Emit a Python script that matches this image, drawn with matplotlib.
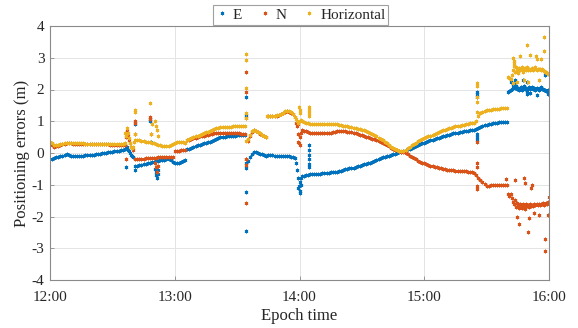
import numpy as np
import matplotlib
matplotlib.use("Agg")
import matplotlib.pyplot as plt
from matplotlib.lines import Line2D

plt.rcParams['font.family'] = ['Liberation Serif', 'DejaVu Serif']

# ---------------- data (minutes after 12:00) ----------------
series_names = ["E", "N", "Horizontal"]
series_colors = ["#0072BD", "#D95319", "#EDB120"]
x_tick_labels = ["12:00", "13:00", "14:00", "15:00", "16:00"]
y_ticks = [-4, -3, -2, -1, 0, 1, 2, 3, 4]

# main part: one reading per minute, 12:00 .. 15:40
e_main = [
    -0.20, -0.18, -0.16, -0.14, -0.12, -0.10, -0.08, -0.05, -0.04, -0.06,
    -0.08, -0.10, -0.11, -0.11, -0.10, -0.09, -0.08, -0.07, -0.06, -0.06,
    -0.05, -0.05, -0.04, -0.03, -0.02, -0.01, 0.00, 0.01, 0.02, 0.03,
    0.04, 0.05, 0.06, 0.07, 0.08, 0.09, 0.12, 0.18, 0.05, -0.05,
    -0.12,
    -0.42, -0.40, -0.39, -0.38, -0.36, -0.34, -0.32, -0.30, -0.29,
    -0.28, -0.26, -0.25, -0.23, -0.22, -0.21, -0.20, -0.20, -0.22, -0.28,
    -0.32, -0.33, -0.31, -0.28, -0.25, -0.22,
    0.12, 0.14, 0.16, 0.19,
    0.22, 0.24, 0.26, 0.28, 0.30, 0.32, 0.34, 0.36, 0.39, 0.42,
    0.45, 0.47, 0.49, 0.50, 0.51, 0.52, 0.53, 0.54, 0.54, 0.55,
    0.56, 0.57, 0.57, 0.58, 0.58,
    -0.25, -0.12, -0.02, 0.03, 0.04,
    0.01, -0.02, -0.04, -0.06, -0.08, -0.07, -0.06, -0.07, -0.08, -0.09,
    -0.10, -0.09, -0.08, -0.09, -0.10, -0.11, -0.12, -0.13, -0.15, -0.55,
    -0.90, -0.72,
    -0.72, -0.70, -0.68, -0.67, -0.66, -0.66, -0.66, -0.65,
    -0.65, -0.64, -0.64, -0.63, -0.62, -0.61, -0.61, -0.60, -0.60, -0.58,
    -0.56, -0.53, -0.50, -0.49, -0.48, -0.47, -0.46, -0.44, -0.42, -0.40,
    -0.38, -0.36, -0.34, -0.32, -0.30, -0.27, -0.24, -0.21, -0.18, -0.16,
    -0.14, -0.12, -0.10, -0.08, -0.06, -0.04, -0.02, 0.00, 0.02, 0.04,
    0.06, 0.09, 0.12, 0.14, 0.17, 0.20, 0.23, 0.26, 0.29, 0.31,
    0.33, 0.35, 0.37, 0.40, 0.42, 0.44, 0.46, 0.48, 0.50, 0.53,
    0.55, 0.56, 0.58, 0.60, 0.62, 0.63, 0.64, 0.65, 0.66, 0.68,
    0.69, 0.70, 0.71, 0.72, 0.73, 0.76, 0.80, 0.83, 0.85, 0.87,
    0.88, 0.90, 0.91, 0.93, 0.95, 0.96, 0.98, 0.97, 0.97, 0.98,
    0.99,
]
n_main = [
    0.30, 0.24, 0.20, 0.21, 0.23, 0.25, 0.27, 0.29, 0.31, 0.31,
    0.31, 0.29, 0.28, 0.28, 0.28, 0.28, 0.28, 0.27, 0.27, 0.27,
    0.27, 0.27, 0.27, 0.28, 0.28, 0.28, 0.28, 0.28, 0.27, 0.26,
    0.26, 0.25, 0.25, 0.25, 0.25, 0.25, 0.26, 0.70, 0.40, 0.18,
    0.10,
    -0.20, -0.20, -0.19, -0.18, -0.18, -0.17, -0.17, -0.16, -0.16,
    -0.15, -0.15, -0.14, -0.14, -0.13, -0.13, -0.13, -0.12, -0.12, -0.13,
    0.05, 0.06, 0.07, 0.08, 0.09, 0.09,
    0.40, 0.42, 0.44, 0.46,
    0.48, 0.50, 0.52, 0.54, 0.55, 0.57, 0.58, 0.59, 0.61, 0.62,
    0.63, 0.64, 0.64, 0.64, 0.64, 0.63, 0.63, 0.62, 0.62, 0.62,
    0.62, 0.62, 0.61, 0.61, 0.61,
    0.37, 0.55, 0.67, 0.71, 0.69,
    0.65, 0.61, 0.57, 0.53, 0.49, 1.16, 1.16, 1.16, 1.17, 1.18,
    1.20, 1.23, 1.26, 1.30, 1.32, 1.30, 1.27, 1.22, 1.12, 0.85,
    0.50, 0.72,
    0.70, 0.68, 0.66, 0.64, 0.63, 0.62, 0.62, 0.63,
    0.64, 0.64, 0.64, 0.63, 0.63, 0.64, 0.66, 0.67, 0.68, 0.69,
    0.69, 0.68, 0.68, 0.67, 0.66, 0.65, 0.64, 0.62, 0.61, 0.58,
    0.56, 0.53, 0.51, 0.49, 0.47, 0.45, 0.43, 0.41, 0.39, 0.36,
    0.33, 0.29, 0.25, 0.21, 0.17, 0.13, 0.10, 0.08, 0.06, 0.04,
    0.02, 0.00, -0.03, -0.08, -0.12, -0.16, -0.20, -0.24, -0.27, -0.30,
    -0.32, -0.35, -0.38, -0.40, -0.42, -0.44, -0.45, -0.47, -0.48, -0.50,
    -0.51, -0.53, -0.54, -0.55, -0.55, -0.56, -0.56, -0.57, -0.57, -0.58,
    -0.58, -0.59, -0.59, -0.60, -0.62, -0.68, -0.78, -0.86, -0.92, -0.99,
    -1.03, -1.04, -1.02, -1.01, -1.01, -1.02, -1.02, -1.02, -1.02, -1.01,
    -1.01,
]
h_main = [
    0.36, 0.30, 0.25, 0.25, 0.26, 0.28, 0.29, 0.31, 0.32, 0.33,
    0.33, 0.32, 0.30, 0.30, 0.30, 0.30, 0.30, 0.29, 0.29, 0.28,
    0.28, 0.28, 0.28, 0.29, 0.29, 0.29, 0.29, 0.29, 0.28, 0.27,
    0.27, 0.27, 0.27, 0.27, 0.27, 0.27, 0.30, 0.80, 0.48, 0.20,
    0.18,
    0.42, 0.41, 0.40, 0.38, 0.37, 0.36, 0.36, 0.35, 0.33,
    0.30, 0.28, 0.26, 0.24, 0.23, 0.22, 0.22, 0.23, 0.25, 0.28,
    0.32, 0.34, 0.35, 0.36, 0.35, 0.33,
    0.42, 0.44, 0.46, 0.49,
    0.53, 0.55, 0.58, 0.60, 0.63, 0.65, 0.67, 0.69, 0.72, 0.76,
    0.78, 0.80, 0.81, 0.82, 0.82, 0.83, 0.83, 0.83, 0.84, 0.84,
    0.84, 0.85, 0.85, 0.85, 0.85,
    0.45, 0.57, 0.68, 0.72, 0.70,
    0.66, 0.62, 0.58, 0.54, 0.50, 1.17, 1.17, 1.17, 1.18, 1.19,
    1.21, 1.24, 1.27, 1.31, 1.33, 1.31, 1.28, 1.23, 1.14, 1.00,
    1.00, 1.02,
    0.98, 0.95, 0.93, 0.92, 0.92, 0.91, 0.91, 0.91,
    0.91, 0.90, 0.90, 0.90, 0.90, 0.90, 0.91, 0.91, 0.90, 0.89,
    0.88, 0.86, 0.85, 0.84, 0.82, 0.81, 0.80, 0.78, 0.77, 0.75,
    0.73, 0.71, 0.68, 0.66, 0.63, 0.60, 0.56, 0.52, 0.48, 0.44,
    0.40, 0.35, 0.30, 0.25, 0.20, 0.16, 0.12, 0.09, 0.06, 0.05,
    0.07, 0.11, 0.15, 0.19, 0.24, 0.28, 0.33, 0.37, 0.40, 0.43,
    0.46, 0.49, 0.52, 0.55, 0.58, 0.61, 0.64, 0.67, 0.69, 0.72,
    0.74, 0.76, 0.78, 0.80, 0.82, 0.84, 0.85, 0.86, 0.87, 0.89,
    0.90, 0.92, 0.93, 0.94, 0.96, 1.02, 1.15, 1.25, 1.30, 1.33,
    1.34, 1.36, 1.37, 1.38, 1.39, 1.39, 1.40, 1.41, 1.42, 1.41,
    1.41,
]

# tail part: one reading per half minute, 15:40:30 .. 16:00
e_tail = [1.93, 1.96, 1.98, 2.02, 2.12, 2.18, 2.06, 2.10, 2.03, 2.06,
          1.98, 2.04, 2.08, 2.00, 2.05, 2.10, 2.02, 2.06, 1.96, 2.03,
          2.07, 2.02, 2.05, 2.09, 2.01, 2.04, 2.00, 2.06, 2.03, 1.99,
          2.04, 2.07, 2.01, 2.03, 1.98, 2.00, 1.96, 1.94, 1.97, 1.92]
n_tail = [-1.30, -1.35, -1.28, -1.42, -1.55, -1.62, -1.48, -1.70, -1.58, -1.66,
          -1.74, -1.60, -1.68, -1.72, -1.62, -1.66, -1.75, -1.60, -1.68, -1.64,
          -1.70, -1.62, -1.66, -1.63, -1.68, -1.61, -1.65, -1.62, -1.64, -1.60,
          -1.63, -1.61, -1.62, -1.59, -1.63, -1.60, -1.58, -1.62, -1.55, -1.60]
h_tail = [2.38, 2.35, 2.32, 2.45, 2.62, 2.75, 2.55, 2.70, 2.62, 2.52,
          2.68, 2.60, 2.66, 2.72, 2.56, 2.64, 2.68, 2.60, 2.72, 2.62,
          2.66, 2.60, 2.65, 2.68, 2.62, 2.64, 2.70, 2.62, 2.65, 2.63,
          2.66, 2.62, 2.64, 2.60, 2.58, 2.56, 2.55, 2.52, 2.50, 2.48]

# extra readings between minutes and outlier epochs (minute, value)
e_extra_min = [36.5, 37.5, 38.5, 39.5, 94.5, 118.5, 119.5, 120.5,
               36.5, 41, 41, 48, 48, 48.5, 50.5, 51, 51, 51.5, 52, 52,
               94.3, 94.3, 94.3, 94.3, 94.3, 119.5, 120, 120.2, 119.8, 120.5,
               124.5, 124.5, 124.5, 124.5, 124.5, 124.5,
               205.2, 205.2, 205.2, 205.2, 205.2, 205.2,
               223.8, 227.7, 229.3, 229.3, 231, 234.1, 238, 239.5, 221.5]
e_extra_val = [0.16, 0.10, 0.00, -0.10, -0.33, -0.30, -0.80, -0.78,
               -0.43, 0.90, -0.54, 1.08, 1.00, 0.35, -0.50, -0.60, -0.70, -0.80, -0.55, -0.65,
               1.77, 1.20, -0.48, -1.24, -2.46, -1.10, -1.20, -1.27, -1.05, -1.00,
               0.25, 0.10, -0.05, -0.20, -0.35, -0.45,
               1.93, 1.85, 1.75, 0.60, 0.50, 0.42,
               2.30, 2.30, 2.25, 1.85, 1.88, 1.82, 2.45, 1.85, 2.25]
n_extra_min = [36.5, 37.5, 38.5, 94.5, 118.5, 119.5, 120.5,
               36.5, 41, 41, 41, 48, 48, 48.5, 50.5, 51, 51.5, 52,
               94.3, 94.3, 94.3, 94.3, 94.3, 94.3, 119.3, 119.5, 119.7, 120,
               205.2, 205.2, 205.2, 205.2, 205.2,
               219.5, 223.5, 225.5, 228, 228.5, 229.7, 230.6, 231.5, 231.8,
               238, 238.2, 239.5, 239.8, 224.5, 233, 235]
n_extra_val = [0.50, 0.55, 0.30, -0.20, 0.95, 0.60, 0.62,
               -0.20, 1.00, 0.95, 0.60, 1.14, 1.06, 0.60, -0.30, -0.45, -0.60, -0.40,
               2.56, 1.93, 1.10, -0.20, -0.38, -1.59, 0.90, 0.35, 0.30, 0.25,
               0.36, -0.33, -0.43, -1.05, -1.12,
               -0.83, -0.85, -2.25, -0.80, -0.95, -2.50, -2.05, -1.10, -1.00,
               -2.70, -3.10, -1.95, -1.40, -2.00, -1.90, -1.95]
h_extra_min = [36.5, 37.5, 38.5, 39.5, 40.5, 94.5, 104.5, 118.5, 119.5, 120.5,
               36.3, 41, 41, 41, 48, 48.5, 49, 50.5, 51, 51.5, 52,
               94.3, 94.3, 94.3, 94.3, 94.3, 119.8, 120, 120.2,
               124.5, 124.5, 124.5, 124.5,
               205.2, 205.2, 205.2, 205.2, 205.2,
               222.5, 223, 223, 222.8, 226, 229.3, 231, 233.8, 234, 237.6, 237.5,
               224.5, 228, 230, 235, 236]
h_extra_val = [0.55, 0.62, 0.32, 0.16, 0.36, 0.39, 1.17, 1.06, 0.96, 1.03,
               0.62, 1.37, 1.28, 0.60, 1.58, 0.60, 0.90, 1.00, 0.85, 0.72, 0.55,
               3.12, 2.93, 2.04, 1.25, 1.09, 1.44, 1.35, 1.25,
               1.44, 1.35, 1.25, 1.15,
               2.20, 2.10, 1.77, 1.60, 1.30,
               3.00, 2.90, 2.85, 2.20, 3.05, 3.40, 3.10, 3.05, 2.95, 3.66, 3.20,
               2.25, 2.30, 2.25, 2.30, 2.95]

MAIN_STEP = 1.0      # minutes
TAIL_START = 220.5   # minutes
TAIL_STEP = 0.5      # minutes


def build(main, tail, extra_min, extra_val):
    t_main = np.arange(len(main)) * MAIN_STEP
    t_tail = TAIL_START + np.arange(len(tail)) * TAIL_STEP
    t = np.concatenate([t_main, t_tail, np.asarray(extra_min, float)])
    v = np.concatenate([main, tail, extra_val])
    return 12 + t / 60.0, v


all_series = [
    build(e_main, e_tail, e_extra_min, e_extra_val),
    build(n_main, n_tail, n_extra_min, n_extra_val),
    build(h_main, h_tail, h_extra_min, h_extra_val),
]

# ---------------- figure ----------------
fig = plt.figure(figsize=(5.78, 3.28), dpi=100)
ax = fig.add_axes([50 / 578, 48 / 328, 499 / 578, 254 / 328])

star = (6, 2, 0)
MS = 2.6
MEW = 0.65
for (x, y), c in zip(all_series, series_colors):
    ax.plot(x, y, linestyle='none', marker=star, markersize=MS,
            markeredgewidth=MEW, color=c)

ax.set_xlim(12, 16)
ax.set_ylim(-4, 4)
ax.set_xticks([12, 13, 14, 15, 16])
ax.set_xticklabels(x_tick_labels)
ax.set_yticks(y_ticks)
ax.set_yticklabels([str(v) for v in y_ticks])

ax.grid(True, color='#e4e4e4', linewidth=0.7)
ax.set_axisbelow(True)
for s in ax.spines.values():
    s.set_color('#8a8a8a')
    s.set_linewidth(0.8)
ax.tick_params(direction='in', length=3, width=0.6, color='#8a8a8a',
               labelsize=11, labelcolor='#262626')
ax.tick_params(axis='y', pad=4)
ax.tick_params(axis='x', pad=8)

ax.set_xlabel('Epoch time', fontsize=12, color='#262626', labelpad=3)
ax.set_ylabel('Positioning errors (m)', fontsize=12, color='#262626', labelpad=1)

handles = [Line2D([], [], linestyle='none', marker=star, markersize=MS,
                  markeredgewidth=MEW, color=c) for c in series_colors]
leg = fig.legend(handles, series_names, loc='upper center',
                 bbox_to_anchor=(300.5 / 578, 1 - 5 / 328), ncol=3,
                 fontsize=11, frameon=True, fancybox=False,
                 edgecolor='#8a8a8a', handlelength=0.8, handletextpad=0.3,
                 columnspacing=1.1, borderpad=0.2, borderaxespad=0)
leg.get_frame().set_linewidth(0.8)
for t in leg.get_texts():
    t.set_color('#262626')

fig.savefig('out.png', dpi=100)
